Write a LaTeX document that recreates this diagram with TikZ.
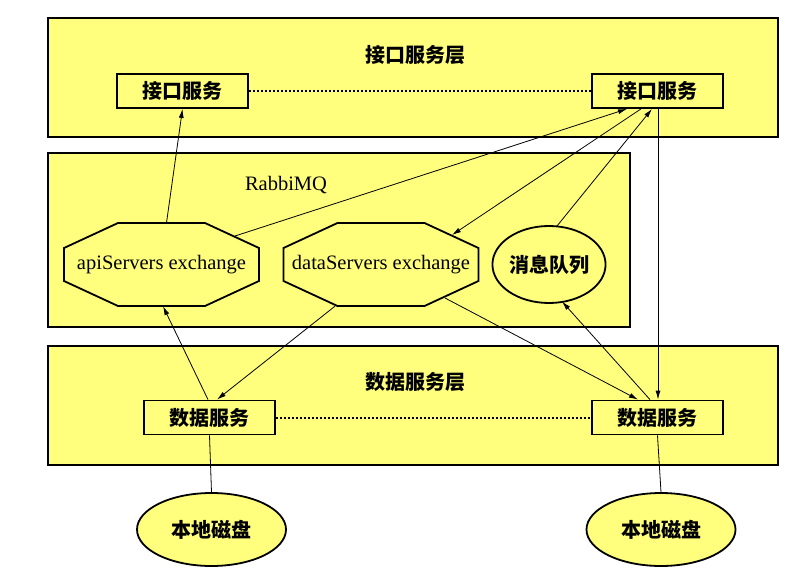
\documentclass[tikz,border=0pt]{standalone}
\usepackage{fontspec}
\setmainfont{Liberation Serif}
\newfontfamily\cjk{Noto Sans CJK SC}
\usetikzlibrary{arrows.meta,calc,shapes.geometric}
\definecolor{layerfill}{RGB}{255,255,125}
\begin{document}
\begin{tikzpicture}[x=1pt,y=-1pt,
  cjkfont/.style={font=\cjk\bfseries\fontsize{20}{23}\selectfont},
  layer/.style={draw=black,line width=1.8pt,fill=layerfill},
  svcbox/.style={draw=black,line width=1.8pt,fill=layerfill,minimum width=131pt,minimum height=34pt,inner sep=0pt,cjkfont},
  octtext/.style={draw=none,minimum width=195pt,minimum height=83pt,inner sep=0pt,font=\fontsize{20.5}{24}\selectfont},
  octline/.style={draw=black,line width=1.8pt,fill=layerfill},
  disk/.style={ellipse,draw=black,line width=1.8pt,fill=layerfill,minimum width=149pt,minimum height=73pt,inner sep=0pt,cjkfont},
  queue/.style={ellipse,draw=black,line width=1.8pt,fill=layerfill,minimum width=97pt,minimum height=77pt,inner sep=0pt,cjkfont},
  title/.style={cjkfont},
  conn/.style={draw=black,line width=0.8pt},
  arr/.style={conn,-{Latex[length=9pt,width=5pt]}},
  dots/.style={draw=black,line width=2pt,dash pattern=on 1.6pt off 2.4pt}
]
\useasboundingbox (0,0) rectangle (806,583);
\fill[white] (0,0) rectangle (806,583);

% layers
\path[layer] (48,18) rectangle (778,137);
\path[layer] (48,153) rectangle (630,327);
\path[layer] (48,346) rectangle (778,465);

\node[title] (t1) at (415,55) {接口服务层};
\node[font=\fontsize{20.5}{24}\selectfont] (t2) at (286,185) {RabbiMQ};
\node[title] (t3) at (415,382) {数据服务层};

% octagons
\path[octline,shift={(161.5,264.5)}] (-97.5,-16.5) -- (-43.5,-41.5) -- (43.5,-41.5) -- (97.5,-16.5) -- (97.5,16.5) -- (43.5,41.5) -- (-43.5,41.5) -- (-97.5,16.5) -- cycle;
\path[octline,shift={(381,264.5)}] (-97.5,-16.5) -- (-43.5,-41.5) -- (43.5,-41.5) -- (97.5,-16.5) -- (97.5,16.5) -- (43.5,41.5) -- (-43.5,41.5) -- (-97.5,16.5) -- cycle;
\node[octtext] (api) at (161.5,264.5) {apiServers exchange};
\node[octtext] (ds) at (381,264.5) {dataServers exchange};

\node[queue] (mq) at (549,264.5) {消息队列};

% service boxes
\node[svcbox] (jk1) at (182.5,91) {接口服务};
\node[svcbox] (jk2) at (657.5,91) {接口服务};
\node[svcbox] (sj1) at (209.5,417.5) {数据服务};
\node[svcbox] (sj2) at (657.5,417.5) {数据服务};

% disks
\node[disk] (d1) at (211.5,529.5) {本地磁盘};
\node[disk] (d2) at (661,529.5) {本地磁盘};

% anchor points
\coordinate (apiTop) at ($(api.north)+(5,0)$);
\coordinate (apiUR) at ($(api.center)+(73.5,-28.5)$);
\coordinate (apiBot) at ($(api.south)+(1.5,0)$);
\coordinate (dsUR) at ($(ds.center)+(71,-29.5)$);
\coordinate (dsBL) at ($(ds.south)+(-46,0)$);
\coordinate (dsBR) at ($(ds.center)+(64,33.5)$);
\coordinate (mqTop) at ($(mq.center)+(8,-38.5)$);
\coordinate (mqBot) at ($(mq.center)+(13,37)$);
\coordinate (jk2a) at ($(jk2.south)+(-30.5,0)$);
\coordinate (jk2b) at ($(jk2.south)+(-16.5,0)$);
\coordinate (jk2c) at ($(jk2.south)+(-5.5,0)$);
\coordinate (jk2d) at ($(jk2.south)+(0.5,0)$);
\coordinate (sj2d) at ($(sj2.north)+(0.5,0)$);
\coordinate (sj1a) at ($(sj1.north)+(-1.5,0)$);
\coordinate (sj1b) at ($(sj1.north)+(7.5,0)$);
\coordinate (sj2a) at ($(sj2.north)+(-19.5,0)$);
\coordinate (sj2b) at ($(sj2.north)+(-7.5,0)$);

% dotted links
\path[dots] (jk1.east) -- (jk2.west);
\path[dots] (sj1.east) -- (sj2.west);

% connectors
\path[arr] (apiTop) -- (jk1.south);
\path[arr] (apiUR) -- (jk2a);
\path[arr] (jk2b) -- (dsUR);
\path[arr] (mqTop) -- (jk2c);
\path[arr] (jk2d) -- (sj2d);
\path[arr] (sj1a) -- (apiBot);
\path[arr] (dsBL) -- (sj1b);
\path[arr] (dsBR) -- (sj2a);
\path[arr] (sj2b) -- (mqBot);
\path[conn] (sj1.south) -- (d1.north);
\path[conn] (sj2.south) -- (d2.north);
\end{tikzpicture}
\end{document}
